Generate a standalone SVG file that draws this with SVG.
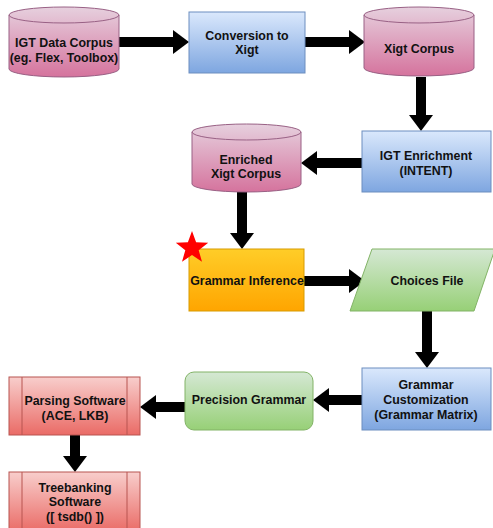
<svg xmlns="http://www.w3.org/2000/svg" width="493" height="528" viewBox="0 0 493 528">
<defs>
<linearGradient id="gPink" x1="0" y1="0" x2="0" y2="1"><stop offset="0" stop-color="#e6d0de"/><stop offset="1" stop-color="#d5739d"/></linearGradient>
<linearGradient id="gBlue" x1="0" y1="0" x2="0" y2="1"><stop offset="0" stop-color="#dae8fc"/><stop offset="1" stop-color="#7ea6e0"/></linearGradient>
<linearGradient id="gOrange" x1="0" y1="0" x2="0" y2="1"><stop offset="0" stop-color="#ffcd28"/><stop offset="1" stop-color="#ffa500"/></linearGradient>
<linearGradient id="gGreen" x1="0" y1="0" x2="0" y2="1"><stop offset="0" stop-color="#d5e8d4"/><stop offset="1" stop-color="#97d077"/></linearGradient>
<linearGradient id="gRed" x1="0" y1="0" x2="0" y2="1"><stop offset="0" stop-color="#f8cecc"/><stop offset="1" stop-color="#ea6b66"/></linearGradient>
<marker id="ah" markerUnits="userSpaceOnUse" markerWidth="16" markerHeight="24" viewBox="0 0 16 24" refX="0" refY="12" orient="auto"><path d="M0,0 L16,12 L0,24 z" fill="#000"/></marker>
</defs>
<style>
text{font-family:"Liberation Sans",Arial,sans-serif;font-size:12.4px;font-weight:bold;fill:#111;text-anchor:middle}
.cyl{fill:url(#gPink);stroke:#996185;stroke-width:1}
.cylt{fill:none;stroke:#996185;stroke-width:1}
.blue{fill:url(#gBlue);stroke:#6c8ebf;stroke-width:1}
.orange{fill:url(#gOrange);stroke:#d79b00;stroke-width:1}
.green{fill:url(#gGreen);stroke:#82b366;stroke-width:1}
.red{fill:url(#gRed);stroke:#b85450;stroke-width:1}
.conn{stroke:#000;stroke-width:10;fill:none;marker-end:url(#ah)}
</style>
<rect width="493" height="528" fill="#fff"/>
<g id="connectors">
<line class="conn" x1="119" y1="42" x2="173" y2="42"/>
<line class="conn" x1="305" y1="42" x2="349" y2="42"/>
<line class="conn" x1="421" y1="77" x2="421" y2="115"/>
<line class="conn" x1="362" y1="163" x2="317" y2="163"/>
<line class="conn" x1="242" y1="192" x2="242" y2="233"/>
<line class="conn" x1="304" y1="281" x2="349" y2="281"/>
<line class="conn" x1="427" y1="311" x2="427" y2="352"/>
<line class="conn" x1="362" y1="400" x2="329" y2="400"/>
<line class="conn" x1="185" y1="407" x2="156" y2="407"/>
<line class="conn" x1="75" y1="435" x2="75" y2="456"/>
</g>
<g id="igt-data-corpus">
<path class="cyl" d="M9,15 a55,8 0 0 1 110,0 v54 a55,8 0 0 1 -110,0 z"/>
<path class="cylt" d="M9,15 a55,8 0 0 0 110,0"/>
<text x="64" y="47">IGT Data Corpus</text>
<text x="64" y="62">(eg. Flex, Toolbox)</text>
</g>
<g id="conversion">
<rect class="blue" x="189" y="12" width="116" height="61"/>
<text x="247" y="40">Conversion to</text>
<text x="247" y="54">Xigt</text>
</g>
<g id="xigt-corpus">
<path class="cyl" d="M364,15 a55,8 0 0 1 110,0 v53 a55,8 0 0 1 -110,0 z"/>
<path class="cylt" d="M364,15 a55,8 0 0 0 110,0"/>
<text x="419" y="53">Xigt Corpus</text>
</g>
<g id="igt-enrichment">
<rect class="blue" x="362" y="131" width="129" height="61"/>
<text x="426" y="160">IGT Enrichment</text>
<text x="426" y="175">(INTENT)</text>
</g>
<g id="enriched-xigt-corpus">
<path class="cyl" d="M192,132 a54.5,8 0 0 1 109,0 v52 a54.5,8 0 0 1 -109,0 z"/>
<path class="cylt" d="M192,132 a54.5,8 0 0 0 109,0"/>
<text x="246" y="164">Enriched</text>
<text x="246" y="178">Xigt Corpus</text>
</g>
<g id="grammar-inference">
<rect class="orange" x="189" y="249" width="115" height="62"/>
<text x="247" y="285">Grammar Inference</text>
<polygon fill="#ff0000" points="192,231 196.1,242.3 208.2,242.8 198.7,250.2 202,261.8 192,255 182,261.8 185.3,250.2 175.8,242.8 187.9,242.3"/>
</g>
<g id="choices-file">
<polygon class="green" points="372,249 495,249 474,311 350,311"/>
<text x="427" y="285">Choices File</text>
</g>
<g id="grammar-customization">
<rect class="blue" x="362" y="368" width="129" height="62"/>
<text x="426" y="389">Grammar</text>
<text x="426" y="404">Customization</text>
<text x="426" y="419">(Grammar Matrix)</text>
</g>
<g id="precision-grammar">
<rect class="green" x="185" y="372" width="128" height="58" rx="9" ry="9"/>
<text x="249" y="404">Precision Grammar</text>
</g>
<g id="parsing-software">
<rect class="red" x="9" y="377" width="131" height="58"/>
<line x1="22" y1="377" x2="22" y2="435" stroke="#b85450"/>
<line x1="127" y1="377" x2="127" y2="435" stroke="#b85450"/>
<text x="75" y="405">Parsing Software</text>
<text x="75" y="420">(ACE, LKB)</text>
</g>
<g id="treebanking-software">
<rect class="red" x="9" y="472" width="131" height="60"/>
<line x1="22" y1="472" x2="22" y2="532" stroke="#b85450"/>
<line x1="127" y1="472" x2="127" y2="532" stroke="#b85450"/>
<text x="75" y="492">Treebanking</text>
<text x="75" y="506">Software</text>
<text x="75" y="521">([ tsdb() ])</text>
</g>
</svg>
